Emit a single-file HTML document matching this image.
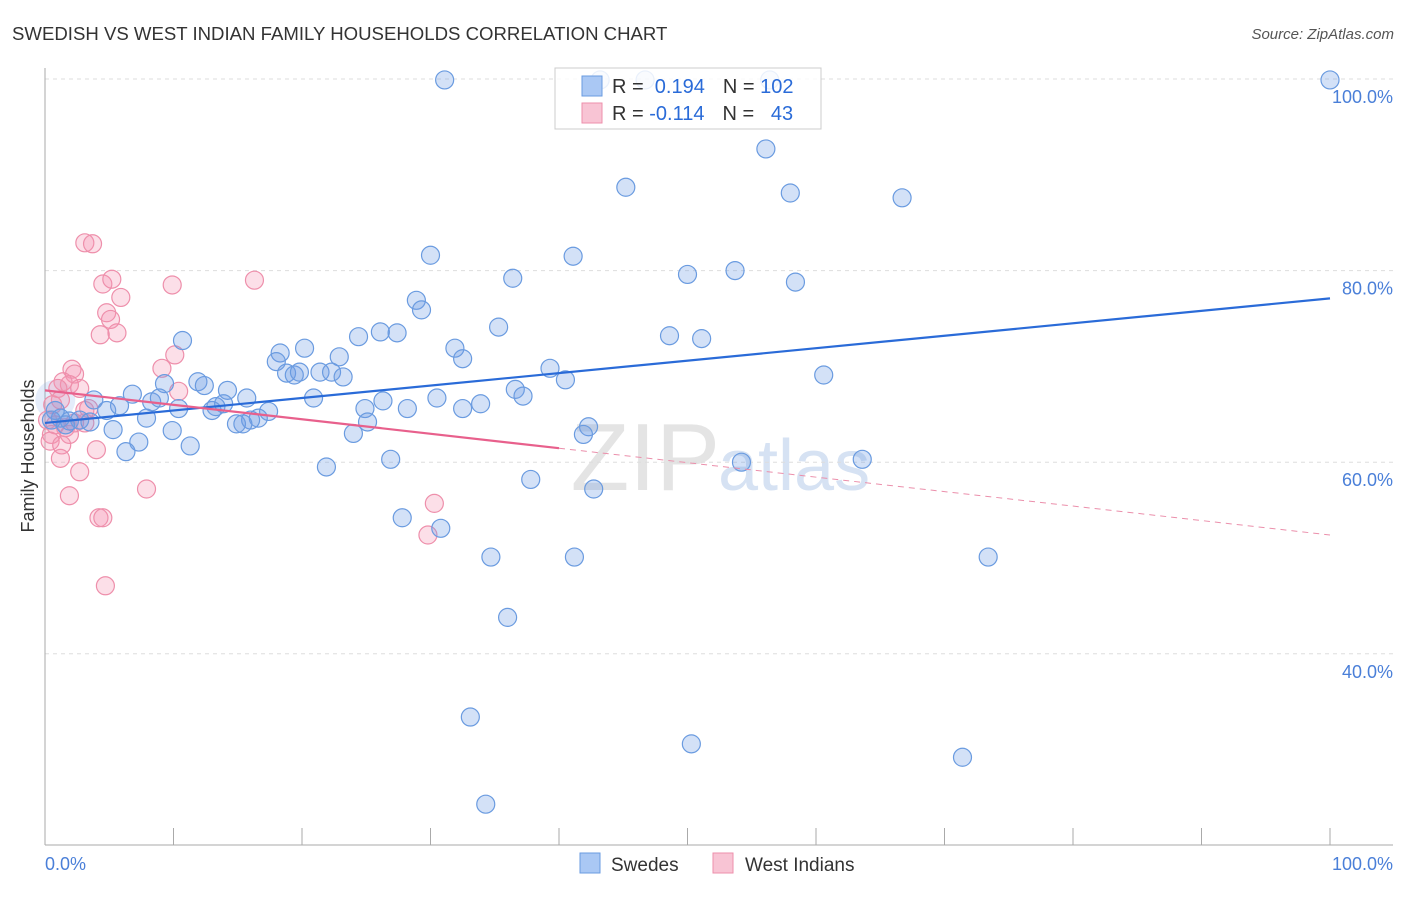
<!DOCTYPE html>
<html><head><meta charset="utf-8"><style>
body{margin:0;background:#fff;font-family:"Liberation Sans",sans-serif}
svg text{font-family:"Liberation Sans",sans-serif}
</style></head><body>
<svg id="c" width="1406" height="892">
<text x="12" y="40" font-size="18.6" fill="#333">SWEDISH VS WEST INDIAN FAMILY HOUSEHOLDS CORRELATION CHART</text>
<text x="1394" y="39" font-size="15" fill="#555" font-style="italic" text-anchor="end">Source: ZipAtlas.com</text>
<text x="34" y="456" font-size="18" fill="#333" text-anchor="middle" transform="rotate(-90 34 456)">Family Households</text>
<text x="720" y="490" font-size="96" fill="#e4e4e4" text-anchor="end" font-family="Liberation Serif">ZIP</text>
<text x="718" y="490" font-size="72" fill="#d6e2f3">atlas</text>
<g id="grid"></g><g id="marks"></g>
<rect x="555" y="68" width="266" height="61" fill="#fff" fill-opacity="0.85" stroke="#ccc"/>
<rect x="582" y="76" width="20" height="20" fill="#aac8f4" stroke="#6a9be0"/>
<rect x="582" y="103" width="20" height="20" fill="#f8c4d4" stroke="#ee8fab"/>
<text x="612" y="93" font-size="20" fill="#333">R = <tspan fill="#2a6bd8">&#160;0.194</tspan><tspan dx="18" fill="#333">N = </tspan><tspan fill="#2a6bd8">102</tspan></text>
<text x="612" y="120" font-size="20" fill="#333">R = <tspan fill="#2a6bd8">-0.114</tspan><tspan dx="18" fill="#333">N = </tspan><tspan fill="#2a6bd8">&#160;&#160;43</tspan></text>
<rect x="580" y="853" width="20" height="20" fill="#aac8f4" stroke="#6a9be0"/>
<text x="611" y="871" font-size="19" fill="#333">Swedes</text>
<rect x="713" y="853" width="20" height="20" fill="#f8c4d4" stroke="#ee8fab"/>
<text x="745" y="871" font-size="19" fill="#333">West Indians</text>
<text x="45" y="870" font-size="18" fill="#4a7fd8">0.0%</text>
<text x="1393" y="870" font-size="18" fill="#4a7fd8" text-anchor="end">100.0%</text>
</svg>
<script>
const yTicks=[100,80,60,40];
const blueX=[31.1,43.2,46.7,56.4,100,56.1,45.2,58.0,66.7,30.0,41.1,36.4,50.0,53.7,58.4,28.9,29.3,35.3,48.6,51.1,10.7,24.4,26.1,27.4,31.9,32.5,18.3,20.2,22.9,18.0,18.8,19.4,19.8,21.4,22.3,23.2,39.3,40.5,60.6,6.8,9.3,11.9,12.4,14.2,8.3,8.9,15.7,20.9,26.3,30.5,33.9,36.6,37.2,10.4,13.0,13.3,13.9,17.4,24.9,28.2,32.5,3.8,4.8,5.8,1.2,1.9,2.7,3.5,7.9,16.6,16.0,14.9,15.4,25.1,5.3,9.9,24.0,42.3,41.9,7.3,11.3,6.3,26.9,21.9,54.2,63.6,37.8,42.7,27.8,30.8,34.7,41.2,73.4,36.0,33.1,50.3,71.4,34.3,0.8,0.5,1.6];
const blueY=[99.9,99.9,99.9,99.9,99.9,92.7,88.7,88.1,87.6,81.6,81.5,79.2,79.6,80.0,78.8,76.9,75.9,74.1,73.2,72.9,72.7,73.1,73.6,73.5,71.9,70.8,71.4,71.9,71.0,70.5,69.3,69.1,69.4,69.4,69.4,68.9,69.8,68.6,69.1,67.1,68.2,68.4,68.0,67.5,66.3,66.7,66.7,66.7,66.4,66.7,66.1,67.6,66.9,65.6,65.4,65.8,66.1,65.3,65.6,65.6,65.6,66.5,65.4,65.9,64.6,64.3,64.4,64.2,64.6,64.6,64.4,64.0,64.0,64.2,63.4,63.3,63.0,63.7,62.9,62.1,61.7,61.1,60.3,59.5,60.0,60.3,58.2,57.2,54.2,53.1,50.1,50.1,50.1,43.8,33.4,30.6,29.2,24.3,65.4,64.4,63.9];
const pinkX=[3.1,3.7,4.5,5.2,5.9,9.9,16.3,4.8,5.1,4.3,5.6,9.1,10.1,2.1,2.3,1.4,1.9,2.7,1.0,10.4,3.1,3.4,1.2,0.6,0.2,0.8,1.6,2.3,3.1,1.9,0.5,0.4,1.3,1.2,4.0,2.7,1.9,7.9,4.2,4.5,30.3,29.8,4.7];
const pinkY=[82.9,82.8,78.6,79.1,77.2,78.5,79.0,75.6,74.9,73.3,73.5,69.8,71.2,69.7,69.2,68.4,68.1,67.7,67.7,67.4,65.4,65.6,66.5,66.0,64.4,63.9,63.6,64.1,64.1,62.9,62.9,62.2,61.8,60.4,61.3,59.0,56.5,57.2,54.2,54.2,55.7,52.4,47.1];
const blueTrend=[64.1,77.1];
const pinkTrend=[67.5,52.4];
const pinkSolidEnd=40;
const NS="http://www.w3.org/2000/svg";
function sx(v){return 45+v*12.85;}
function sy(v){return 79+(100-v)*9.58;}
function mk(t,a,p){const e=document.createElementNS(NS,t);for(const k in a)e.setAttribute(k,a[k]);p.appendChild(e);return e;}
const grid=document.getElementById('grid'),marks=document.getElementById('marks');
yTicks.forEach(t=>{
 const l=mk('line',{x1:45,x2:1393,y1:sy(t),y2:sy(t),stroke:'#ddd','stroke-dasharray':'4,4'},grid);
 
 
 const tx=mk('text',{x:1393,y:sy(t)+24,'font-size':18,fill:'#4a7fd8','text-anchor':'end'},grid);
 tx.textContent=t.toFixed(1)+'%';
 
 
});
const ax=mk('line',{x1:45,x2:45,y1:68,y2:845,stroke:'#aaa'},grid);


const bx=mk('line',{x1:45,x2:1393,y1:845,y2:845,stroke:'#aaa'},grid);


for(let i=0;i<=10;i++){const tk=mk('line',{x1:sx(i*10),x2:sx(i*10),y1:828,y2:845,stroke:'#aaa'},grid);
 
 }
const big=mk('circle',{cx:sx(0.8),cy:sy(66.5),r:20,fill:'rgba(120,160,230,0.2)',stroke:'none'},marks);


pinkX.forEach((x,i)=>{const c=mk('circle',{cx:sx(x),cy:sy(pinkY[i]),r:9,fill:'rgba(244,150,180,0.3)',stroke:'#ee8fab','stroke-width':1.2},marks);
 
 });
blueX.forEach((x,i)=>{const c=mk('circle',{cx:sx(x),cy:sy(blueY[i]),r:9,fill:'rgba(110,155,230,0.3)',stroke:'#6a9be0','stroke-width':1.2},marks);
 
 });
const bt=mk('line',{x1:sx(0),x2:sx(100),y1:sy(blueTrend[0]),y2:sy(blueTrend[1]),stroke:'#2a6bd8','stroke-width':2.2},marks);


const pm=pinkTrend[0]+(pinkTrend[1]-pinkTrend[0])*pinkSolidEnd/100;
const pt=mk('line',{x1:sx(0),x2:sx(pinkSolidEnd),y1:sy(pinkTrend[0]),y2:sy(pm),stroke:'#e8608c','stroke-width':2.2},marks);


const pd=mk('line',{x1:sx(pinkSolidEnd),x2:sx(100),y1:sy(pm),y2:sy(pinkTrend[1]),stroke:'#eb8fab','stroke-width':1,'stroke-dasharray':'6,5'},marks);


</script>
</body></html>
